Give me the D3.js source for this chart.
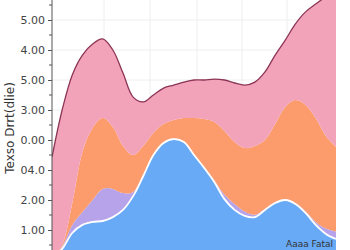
<!DOCTYPE html>
<html>
<head>
<meta charset="utf-8">
<script src="https://cdn.jsdelivr.net/npm/d3@7"></script>
<style>
  body { margin: 0; background: #fff; }
  svg { display: block; font-family: "DejaVu Sans", sans-serif; }
</style>
</head>
<body>
<svg id="chart"></svg>
<script>
// data (layer increments, bottom to top)
const steps = d3.range(29);
const blue = [0.05, 0.37, 0.9, 1.17, 1.27, 1.3, 1.43, 1.67, 2.13, 2.8, 3.5, 3.9, 4.03, 3.93, 3.5, 3.07, 2.6, 2.03, 1.67, 1.47, 1.43, 1.67, 1.9, 2.0, 1.87, 1.57, 1.17, 0.87, 0.7];
const purple = [0, 0.08, 0.27, 0.43, 0.73, 1.07, 0.94, 0.56, 0.14, 0.05, 0.03, 0.03, 0.03, 0.03, 0.03, 0.03, 0.06, 0.15, 0.2, 0.15, 0.08, 0.04, 0.03, 0.03, 0.03, 0.05, 0.1, 0.18, 0.25];
const orange = [0, 0.05, 0.73, 2.0, 2.4, 2.36, 2.06, 1.57, 1.23, 0.95, 0.7, 0.6, 0.61, 0.77, 1.2, 1.6, 1.94, 2.12, 2.06, 2.11, 2.29, 2.29, 2.6, 3.07, 3.43, 3.55, 3.46, 3.08, 2.82];
const pink = [3.38, 4.5, 4.27, 3.23, 2.8, 2.64, 2.57, 2.43, 1.93, 1.47, 1.27, 1.2, 1.16, 1.2, 1.27, 1.3, 1.43, 1.7, 1.97, 2.1, 2.13, 2.27, 2.3, 2.23, 2.54, 3.1, 3.8, 4.64, 5.16];
const tickValues = [8, 7, 6, 5, 4, 3, 2, 1];
const tickLabels = ["5.00", "4.00", "5.00", "3.00", "0.00", "04.0", "2.00", "1.00"];

const width = 350, height = 250;
const left = 52, right = 336;

const svg = d3.select('#chart').attr('width', width).attr('height', height);

const x = d3.scaleLinear().domain([0, steps.length - 1]).range([left, right]);
const y = d3.scaleLinear().domain([0, 8]).range([260, 20]);

const rows = steps.map(i => ({ blue: blue[i], purple: purple[i], orange: orange[i], pink: pink[i] }));
const keys = ['blue', 'purple', 'orange', 'pink'];
const colors = { blue: '#68aaf6', purple: '#b6a3ea', orange: '#fc9b6c', pink: '#f2a3b9' };
const series = d3.stack().keys(keys)(rows);

svg.append('clipPath').attr('id', 'plot')
  .append('rect').attr('x', left).attr('y', 0).attr('width', right - left).attr('height', height);

// grid
const grid = svg.append('g');
grid.selectAll('line.v')
  .data([104, 150, 197, 242, 287].map(px => x.invert(px)))
  .enter().append('line')
  .attr('x1', d => x(d)).attr('x2', d => x(d))
  .attr('y1', 0).attr('y2', height)
  .attr('stroke', '#eeeeee').attr('stroke-width', 1);
grid.selectAll('line.h')
  .data(tickValues)
  .enter().append('line')
  .attr('x1', left).attr('x2', right)
  .attr('y1', d => y(d)).attr('y2', d => y(d))
  .attr('stroke', '#eeeeee').attr('stroke-width', 1);

const curve = d3.curveCatmullRom.alpha(0.5);

const area = d3.area()
  .x((d, i) => x(i))
  .y0(d => y(d[0]))
  .y1(d => y(d[1]))
  .curve(curve);

const edge = d3.line()
  .x((d, i) => x(i))
  .y(d => y(d[1]))
  .curve(curve);

const layers = svg.append('g').attr('clip-path', 'url(#plot)');
layers.selectAll('path.area')
  .data(series)
  .enter().append('path')
  .attr('d', area)
  .attr('fill', d => colors[d.key]);

// white edge on the blue layer, dark edge on the top
layers.append('path')
  .datum(series[0])
  .attr('d', edge)
  .attr('fill', 'none')
  .attr('stroke', '#ffffff')
  .attr('stroke-width', 1.8);
layers.append('path')
  .datum(series[3])
  .attr('d', edge)
  .attr('fill', 'none')
  .attr('stroke', '#8c3556')
  .attr('stroke-width', 1.3);

// y axis
const axis = svg.append('g').attr('transform', `translate(${left},0)`);
axis.call(d3.axisLeft(y)
  .tickValues(tickValues)
  .tickFormat((d, i) => tickLabels[i])
  .tickSize(4).tickSizeOuter(0));
axis.select('.domain').remove();
axis.append('line').attr('x1', 0).attr('x2', 0).attr('y1', 0).attr('y2', height)
  .attr('stroke', '#555');
axis.selectAll('.tick line').attr('stroke', '#555');
axis.selectAll('.tick text')
  .attr('x', -7)
  .attr('fill', '#444')
  .style('font-size', '11px')
  .style('font-family', '"DejaVu Sans", sans-serif');
axis.selectAll('line.minor')
  .data(d3.range(0.5, 9, 1))
  .enter().append('line')
  .attr('x1', -3).attr('x2', 0)
  .attr('y1', d => y(d)).attr('y2', d => y(d))
  .attr('stroke', '#555');

svg.append('text')
  .attr('transform', 'translate(14,128) rotate(-90)')
  .attr('text-anchor', 'middle')
  .attr('fill', '#333')
  .style('font-size', '12px')
  .text('Texso Drrt(dlie)');

svg.append('text')
  .attr('x', 333).attr('y', 247)
  .attr('text-anchor', 'end')
  .attr('fill', '#333')
  .style('font-size', '9px')
  .text('Aaaa Fatal');
</script>
</body>
</html>
